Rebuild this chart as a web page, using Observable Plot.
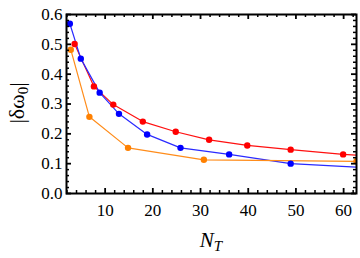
<!DOCTYPE html>
<html><head><meta charset="utf-8">
<script src="https://cdn.jsdelivr.net/npm/d3@7"></script>
<script src="https://cdn.jsdelivr.net/npm/@observablehq/plot@0.6"></script>
<style>
html,body{margin:0;padding:0;background:#fff;}
svg text, svg tspan{font-family:"Liberation Serif","DejaVu Serif",serif !important;}
</style>
</head><body>
<div id="chart"></div>
<script>
const redX = [3.6, 7.65, 11.7, 17.9, 24.8, 31.8, 39.8, 48.9, 59.9, 72];
const redY = [0.501, 0.359, 0.298, 0.241, 0.207, 0.180, 0.161, 0.147, 0.131, 0.120];
const blueX = [2.6, 4.9, 8.85, 12.9, 18.8, 25.8, 36.0, 48.9, 64.5];
const blueY = [0.569, 0.452, 0.338, 0.267, 0.198, 0.153, 0.131, 0.100, 0.087];
const orangeX = [2.8, 6.7, 14.8, 30.7, 62.7];
const orangeY = [0.482, 0.257, 0.153, 0.113, 0.108];
const xTicks = [10, 20, 30, 40, 50, 60];
const yTicks = [0.0, 0.1, 0.2, 0.3, 0.4, 0.5, 0.6];
const xMinor = [2, 4, 6, 8, 12, 14, 16, 18, 22, 24, 26, 28, 32, 34, 36, 38, 42, 44, 46, 48, 52, 54, 56, 58, 62];
const yMinor = [0.02, 0.04, 0.06, 0.08, 0.12, 0.14, 0.16, 0.18, 0.22, 0.24, 0.26, 0.28, 0.32, 0.34, 0.36, 0.38, 0.42, 0.44, 0.46, 0.48, 0.52, 0.54, 0.56, 0.58];

const series = [
  {name: "red", color: "#ff1010", dot: "#ff0000", xs: redX, ys: redY},
  {name: "blue", color: "#2a2aff", dot: "#0000ff", xs: blueX, ys: blueY},
  {name: "orange", color: "#ff8c1a", dot: "#ff8000", xs: orangeX, ys: orangeY}
];
const rows = s => s.xs.map((x, i) => ({x, y: s.ys[i]}));

const W = 360, H = 258, ML = 66, MR = 4, MT = 14, MB = 65;
const fw = W - ML - MR, fh = H - MT - MB;
const xDom = [1.9, 62.7], yDom = [0, 0.6];
const font = "Liberation Serif, DejaVu Serif, serif";
const marks = [];
for (const s of series) {
  marks.push(Plot.line(rows(s), {x: "x", y: "y", stroke: s.color, strokeWidth: 1.2, clip: true}));
}
for (const s of series) {
  marks.push(Plot.dot(rows(s), {x: "x", y: "y", fill: s.dot, r: 3.2, clip: true}));
}
// inward tick marks on all four sides (lengths converted from pixels to scale units)
const ux = (xDom[1] - xDom[0]) / fw, uy = (yDom[1] - yDom[0]) / fh;
for (const [vals, L, sw] of [[xTicks, 5, 1.8], [xMinor, 3, 1.5]]) {
  marks.push(Plot.ruleX(vals, {x: d => d, y1: yDom[0], y2: yDom[0] + L * uy, stroke: "black", strokeWidth: sw}));
  marks.push(Plot.ruleX(vals, {x: d => d, y1: yDom[1] - L * uy, y2: yDom[1], stroke: "black", strokeWidth: sw}));
}
for (const [vals, L, sw] of [[yTicks, 5, 1.8], [yMinor, 3, 1.5]]) {
  marks.push(Plot.ruleY(vals, {y: d => d, x1: xDom[0], x2: xDom[0] + L * ux, stroke: "black", strokeWidth: sw}));
  marks.push(Plot.ruleY(vals, {y: d => d, x1: xDom[1] - L * ux, x2: xDom[1], stroke: "black", strokeWidth: sw}));
}
// labels
marks.push(Plot.axisX(xTicks, {anchor: "bottom", tickSize: 0, tickPadding: 10, label: null, fontSize: 17, fontFamily: font, tickFormat: d => String(d)}));
marks.push(Plot.axisY(yTicks, {anchor: "left", tickSize: 0, tickPadding: 4, label: null, fontSize: 17, fontFamily: font, tickFormat: d => d.toFixed(1)}));
marks.push(Plot.frame({stroke: "black", strokeWidth: 2}));

const plot = Plot.plot({
  width: W,
  height: H,
  marginLeft: ML,
  marginRight: MR,
  marginTop: MT,
  marginBottom: MB,
  style: {fontFamily: font, fontSize: "17px", color: "black", background: "white"},
  x: {domain: xDom},
  y: {domain: yDom},
  marks
});
document.getElementById("chart").appendChild(plot);

const svg = d3.select(plot);
// y-axis title |δω0|
const yl = svg.append("text")
  .attr("transform", "translate(24,103) rotate(-90)")
  .attr("text-anchor", "middle")
  .attr("font-family", font)
  .attr("font-size", 22)
  .attr("fill", "black");
yl.append("tspan").text("|δω");
yl.append("tspan").attr("font-size", 15).attr("dy", 4).text("0");
yl.append("tspan").attr("dy", -4).text("|");
// x-axis title N_T
const xl = svg.append("text")
  .attr("x", 211).attr("y", 247)
  .attr("text-anchor", "middle")
  .attr("font-family", font)
  .attr("font-style", "italic")
  .attr("font-size", 21)
  .attr("fill", "black");
xl.append("tspan").text("N");
xl.append("tspan").attr("font-size", 15).attr("dy", 4).text("T");
</script>
</body></html>
